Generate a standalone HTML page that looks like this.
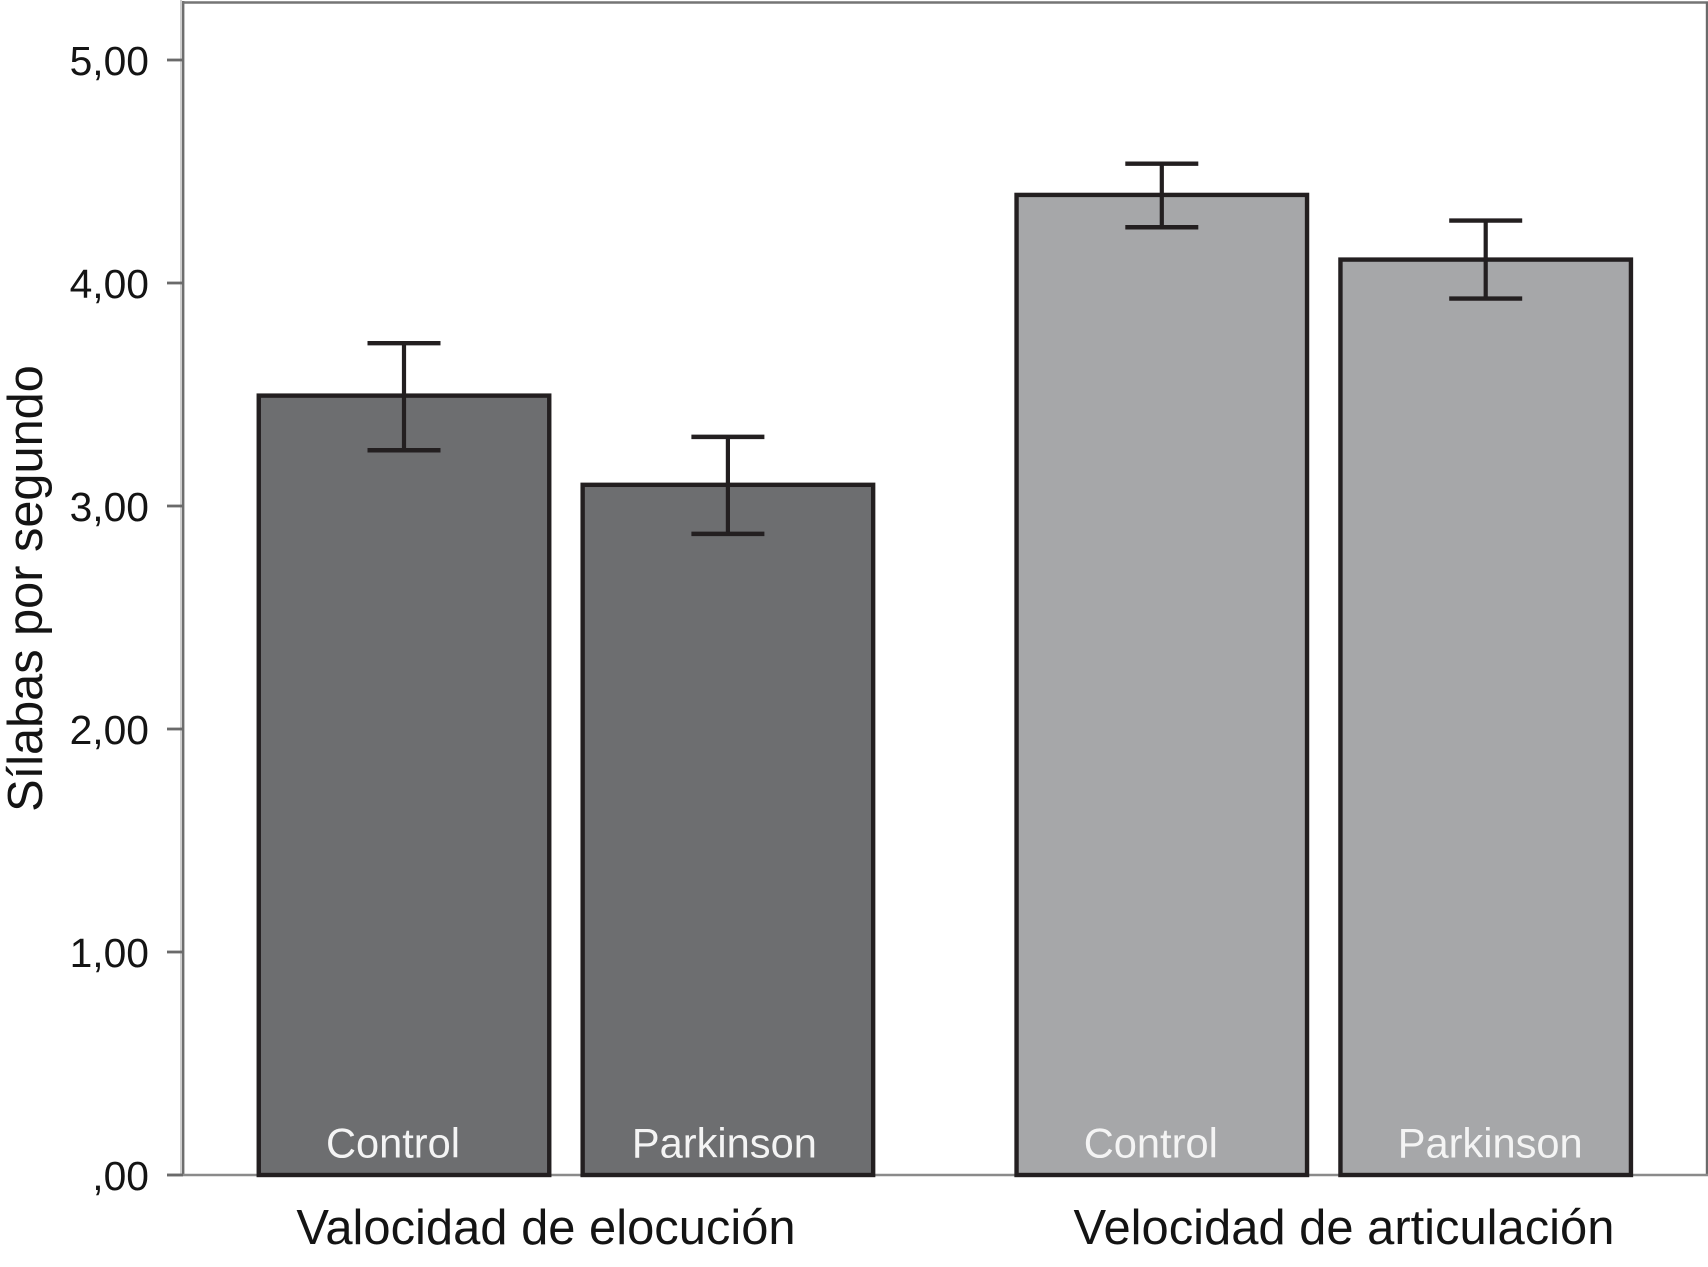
<!DOCTYPE html>
<html lang="es">
<head>
<meta charset="utf-8">
<title>Sílabas por segundo</title>
<style>
html,body{margin:0;padding:0;background:#fff;width:1708px;height:1267px;overflow:hidden}
svg{display:block;font-family:"Liberation Sans",Arial,sans-serif}
</style>
</head>
<body>
<svg id="chart" width="1708" height="1267" viewBox="0 0 1708 1267" xmlns="http://www.w3.org/2000/svg"></svg>
<script>
const yTickValues = [0, 1, 2, 3, 4, 5];
const yTickLabels = [",00", "1,00", "2,00", "3,00", "4,00", "5,00"];
const yAxisTitle = "Sílabas por segundo";
const groupLabels = ["Valocidad de elocución", "Velocidad de articulación"];
const barLabels = ["Control", "Parkinson", "Control", "Parkinson"];
const barGroups = [0, 0, 1, 1];
const barValues = [3.495, 3.095, 4.395, 4.105];
const errorUpper = [3.73, 3.31, 4.535, 4.28];
const errorLower = [3.25, 2.875, 4.25, 3.93];

const NS = "http://www.w3.org/2000/svg";
const svg = document.getElementById("chart");
function yScale(v) { return 1175 - 223 * v; }
function barCenter(i) { return 404 + 323.9 * i + 110 * barGroups[i]; }
const BAR_W = 290.5, CAP_W = 73;
function add(tag, attrs, text) {
  const el = document.createElementNS(NS, tag);
  for (const k in attrs) el.setAttribute(k, attrs[k]);
  if (text !== undefined) el.textContent = text;
  svg.appendChild(el);
  return el;
}

// frame
let el = add("line", {x1:181, y1:0, x2:181, y2:1175, stroke:"#cfcfcf", "stroke-width":2});


el = add("line", {x1:183.2, y1:1, x2:183.2, y2:1175, stroke:"#6e6e6e", "stroke-width":2.4});


el = add("line", {x1:182, y1:2.5, x2:1708, y2:2.5, stroke:"#757575", "stroke-width":2.4});


el = add("line", {x1:1707, y1:2, x2:1707, y2:1175, stroke:"#6a6a6a", "stroke-width":2.4});


el = add("line", {x1:167, y1:yScale(0), x2:1708, y2:yScale(0), stroke:"#8a8a8a", "stroke-width":2.4});



// y ticks
yTickValues.forEach(function (v, i) {
  const y = yScale(v);
  const t = add("line", {x1:167, y1:y, x2:183, y2:y, stroke:"#6a6a6a", "stroke-width":2.8});
  
  
  const l = add("text", {x:149, y:y + 15, "text-anchor":"end", "font-size":40.8, fill:"#141414"}, yTickLabels[i]);
  
  
});

// y title
el = add("text", {transform:"translate(42 588.5) rotate(-90)", "text-anchor":"middle", "font-size":48.7, fill:"#141414"}, yAxisTitle);



// bars
barValues.forEach(function (v, i) {
  const cx = barCenter(i), top = yScale(v), bottom = yScale(0);
  const b = add("rect", {x:cx - BAR_W / 2, y:top, width:BAR_W, height:bottom - top,
    fill: barGroups[i] === 0 ? "#6d6e70" : "#a6a7a9", stroke:"#231f20", "stroke-width":4.4});
  
  
});

// error bars
barValues.forEach(function (v, i) {
  const cx = barCenter(i), yu = yScale(errorUpper[i]), yl = yScale(errorLower[i]);
  const stem = add("line", {x1:cx, y1:yu, x2:cx, y2:yl, stroke:"#231f20", "stroke-width":4.2});
  
  
  const capU = add("line", {x1:cx - CAP_W / 2, y1:yu, x2:cx + CAP_W / 2, y2:yu, stroke:"#231f20", "stroke-width":4.4});
  
  
  const capL = add("line", {x1:cx - CAP_W / 2, y1:yl, x2:cx + CAP_W / 2, y2:yl, stroke:"#231f20", "stroke-width":4.4});
  
  
});

// labels inside bars
function barLabelNudge(i) { return i === 1 ? -3.5 : i === 3 ? 4.5 : -11; }
barLabels.forEach(function (s, i) {
  const l = add("text", {x:barCenter(i) + barLabelNudge(i), y:1157.5, "text-anchor":"middle", "font-size":41.6, fill:"#f4f4f4"}, s);
  
  
});

// group labels
function groupCenter(g) { return g === 0 ? 546 : 1344; }
groupLabels.forEach(function (s, g) {
  const l = add("text", {x:groupCenter(g), y:1244, "text-anchor":"middle", "font-size":48.9, fill:"#141414"}, s);
  
  
});
</script>
</body>
</html>
